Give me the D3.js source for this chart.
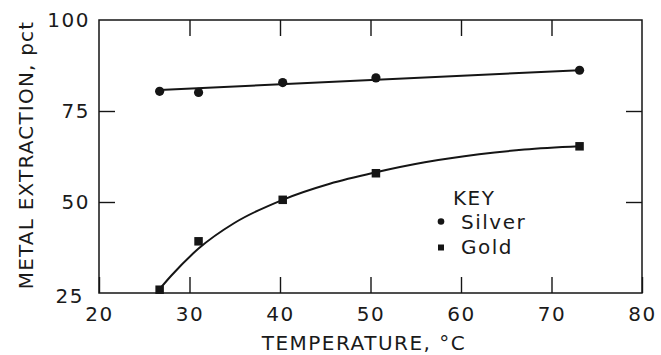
<!DOCTYPE html>
<html>
<head>
<meta charset="utf-8">
<script src="https://cdn.jsdelivr.net/npm/d3@7"></script>
<style>
  body { margin: 0; background: #fff; }
  text { font-family: "DejaVu Sans", sans-serif; fill: #1a1a1a; }
</style>
</head>
<body>
<div id="chart"></div>
<script>
// Data
const temps = [26.7, 31.0, 40.3, 50.6, 73.1];
const silver = [80.4, 80.1, 82.8, 84.1, 86.2];
const gold = [25.9, 39.2, 50.6, 57.9, 65.3];
// fitted lines as drawn
const silverFitT = [26.7, 73.1];
const silverFitV = [80.8, 86.2];
const goldFitT = [26.5, 28, 31, 35, 40.3, 45.5, 50.5, 56, 62, 67, 73.1];
const goldFitV = [25.5, 29.8, 37.2, 44.3, 50.6, 55.0, 58.1, 60.9, 63.1, 64.4, 65.3];
const xTicks = [20, 30, 40, 50, 60, 70, 80];
const yTicks = [25, 50, 75, 100];

const W = 661, H = 355;
const margin = { top: 20, right: 19, bottom: 62, left: 99 };
const width = W - margin.left - margin.right;
const height = H - margin.top - margin.bottom;
const ink = "#151515";
const fontSize = "20px";

const svg = d3.select("#chart").append("svg")
  .attr("width", W)
  .attr("height", H);

const chart = svg.append("g")
  .attr("transform", `translate(${margin.left},${margin.top})`);

const x = d3.scaleLinear().domain([20, 80]).range([0, width]);
const y = d3.scaleLinear().domain([25, 100]).range([height, 0]);

function styleAxis(g) {
  g.select(".domain").remove();
  g.selectAll(".tick line").attr("stroke", ink).attr("stroke-width", 1.4);
  g.selectAll(".tick text")
    .style("font-size", fontSize)
    .style("letter-spacing", "1.5px")
    .attr("fill", "#1a1a1a");
}

// Bottom axis, ticks pointing inward
chart.append("g")
  .attr("transform", `translate(0,${height})`)
  .call(d3.axisBottom(x).tickValues(xTicks).tickSize(-16).tickPadding(14))
  .call(styleAxis);

// Top axis, no labels
chart.append("g")
  .call(d3.axisTop(x).tickValues(xTicks.slice(1, -1)).tickSize(-16).tickFormat(""))
  .call(styleAxis);

// Left axis
chart.append("g")
  .call(d3.axisLeft(y).tickValues(yTicks.slice(1, -1)).tickSize(-16).tickFormat(""))
  .call(styleAxis);
chart.append("g")
  .call(d3.axisLeft(y).tickValues(yTicks).tickSize(0).tickPadding(9))
  .call(styleAxis)
  .call(g => g.selectAll(".tick text")
    .filter(d => d === 25)
    .attr("dy", "0.45em")
    .attr("x", -15));

// Right axis
chart.append("g")
  .attr("transform", `translate(${width},0)`)
  .call(d3.axisRight(y).tickValues(yTicks.slice(1, -1)).tickSize(-16).tickFormat(""))
  .call(styleAxis);

// Frame
chart.append("rect")
  .attr("width", width)
  .attr("height", height)
  .attr("fill", "none")
  .attr("stroke", ink)
  .attr("stroke-width", 1.5);

// Fitted lines
const line = d3.line()
  .x(d => x(d[0]))
  .y(d => y(d[1]));

chart.append("path")
  .datum(d3.zip(silverFitT, silverFitV))
  .attr("d", line)
  .attr("fill", "none")
  .attr("stroke", ink)
  .attr("stroke-width", 2);

chart.append("path")
  .datum(d3.zip(goldFitT, goldFitV))
  .attr("d", line.curve(d3.curveMonotoneX))
  .attr("fill", "none")
  .attr("stroke", ink)
  .attr("stroke-width", 2);

// Points
chart.selectAll(".silver")
  .data(d3.zip(temps, silver))
  .enter()
  .append("circle")
  .attr("class", "silver")
  .attr("cx", d => x(d[0]))
  .attr("cy", d => y(d[1]))
  .attr("r", 4.6)
  .attr("fill", ink);

const sq = 8.5;
chart.selectAll(".gold")
  .data(d3.zip(temps, gold))
  .enter()
  .append("rect")
  .attr("class", "gold")
  .attr("x", d => x(d[0]) - sq / 2)
  .attr("y", d => y(d[1]) - sq / 2)
  .attr("width", sq)
  .attr("height", sq)
  .attr("fill", ink);

// Key
const key = svg.append("g").attr("transform", "translate(441,0)");
key.append("text")
  .attr("x", 12).attr("y", 205)
  .style("font-size", fontSize).style("letter-spacing", "1.5px")
  .text("KEY");
key.append("circle")
  .attr("cx", 0).attr("cy", 221.5).attr("r", 3.3)
  .attr("fill", ink);
key.append("text")
  .attr("x", 20).attr("y", 229)
  .style("font-size", fontSize).style("letter-spacing", "1.5px")
  .text("Silver");
key.append("rect")
  .attr("x", -3).attr("y", 244.5).attr("width", 6).attr("height", 6)
  .attr("fill", ink);
key.append("text")
  .attr("x", 20).attr("y", 254)
  .style("font-size", fontSize).style("letter-spacing", "1.5px")
  .text("Gold");

// Axis titles
svg.append("text")
  .attr("x", 364).attr("y", 350)
  .attr("text-anchor", "middle")
  .style("font-size", fontSize).style("letter-spacing", "1.5px")
  .text("TEMPERATURE, °C");

svg.append("text")
  .attr("transform", "translate(33,155) rotate(-90)")
  .attr("text-anchor", "middle")
  .style("font-size", fontSize).style("letter-spacing", "1.2px")
  .text("METAL EXTRACTION, pct");
</script>
</body>
</html>
